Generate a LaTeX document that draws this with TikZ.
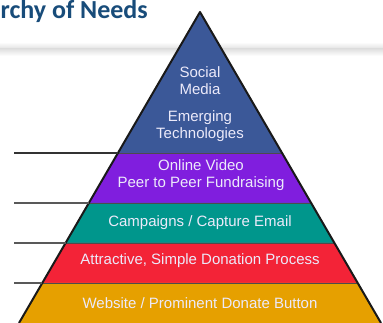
\documentclass[tikz,border=0pt]{standalone}
\usepackage{fontspec}
\setmainfont{Liberation Sans}
\newfontfamily\titlefont{Carlito}
\usetikzlibrary{positioning, calc}
\definecolor{titleblue}{RGB}{24, 76, 122}
\definecolor{tierblue}{RGB}{59, 88, 152}
\definecolor{tierpurple}{RGB}{128, 30, 222}
\definecolor{tierteal}{RGB}{0, 150, 140}
\definecolor{tierred}{RGB}{243, 35, 55}
\definecolor{tierorange}{RGB}{230, 160, 0}
\definecolor{tiertext}{RGB}{236, 234, 250}

\begin{document}
\begin{tikzpicture}[
    x=1pt, y=-1pt,
    label/.style={align=center, text=tiertext, font=\fontsize{15}{17.5}\selectfont, inner sep=0pt},
    tier/.style={draw=black!70, line width=0.8pt},
    guide/.style={draw=black!65, line width=1.1pt},
    rim/.style={draw=black!90, line width=2pt, line join=round}
]
    \useasboundingbox (0,0) rectangle (383,323);
    \fill[white] (0,0) rectangle (383,323);

    % header shadow
    \shade[top color=white, bottom color=black!12] (0,42) rectangle (383,49);
    \shade[top color=black!12, bottom color=white] (0,49) rectangle (383,56);

    \node[anchor=base east, text=titleblue, font=\titlefont\bfseries\fontsize{26}{26}\selectfont, inner sep=0pt] (title) at (148,19) {rchy of Needs};

    % pyramid corners
    \coordinate (apex) at (200,12);
    \coordinate (l1) at (117.9,153); \coordinate (r1) at (282.1,153);
    \coordinate (l2) at (88.8,203);  \coordinate (r2) at (311.2,203);
    \coordinate (l3) at (65.6,243);  \coordinate (r3) at (334.4,243);
    \coordinate (l4) at (42.3,283);  \coordinate (r4) at (357.7,283);
    \coordinate (l5) at (19,323);    \coordinate (r5) at (381,323);

    % tiers
    \fill[tierblue] (apex) -- (r1) -- (l1) -- cycle;
    \fill[tierpurple] (l1) -- (r1) -- (r2) -- (l2) -- cycle;
    \fill[tierteal] (l2) -- (r2) -- (r3) -- (l3) -- cycle;
    \fill[tierred] (l3) -- (r3) -- (r4) -- (l4) -- cycle;
    \fill[tierorange] (l4) -- (r4) -- (r5) -- (l5) -- cycle;

    \draw[tier] (l1) -- (r1);
    \draw[tier] (l2) -- (r2);
    \draw[tier] (l3) -- (r3);
    \draw[tier] (l4) -- (r4);
    \draw[rim] (l5) -- (apex) -- (r5);

    % guide lines on the left
    \coordinate (g1) at (14,153);
    \coordinate (g2) at (14,203);
    \coordinate (g3) at (14,243);
    \coordinate (g4) at (14,283);
    \draw[guide, draw=black!80] (g1) -- (l1);
    \draw[guide] (g2) -- (l2);
    \draw[guide] (g3) -- (l3);
    \draw[guide] (g4) -- (l4);

    % tier labels
    \node[label] (social) at (200,80.5) {Social\\Media};
    \node[label] (emerging) at (200,126) {Emerging\\Technologies};
    \node[label] (video) at (201,175) {Online Video\\Peer to Peer Fundraising};
    \node[label] (email) at (200,223) {Campaigns / Capture Email};
    \node[label] (donation) at (200,260.5) {Attractive, Simple Donation Process};
    \node[label] (website) at (200,303) {Website / Prominent Donate Button};
\end{tikzpicture}
\end{document}
